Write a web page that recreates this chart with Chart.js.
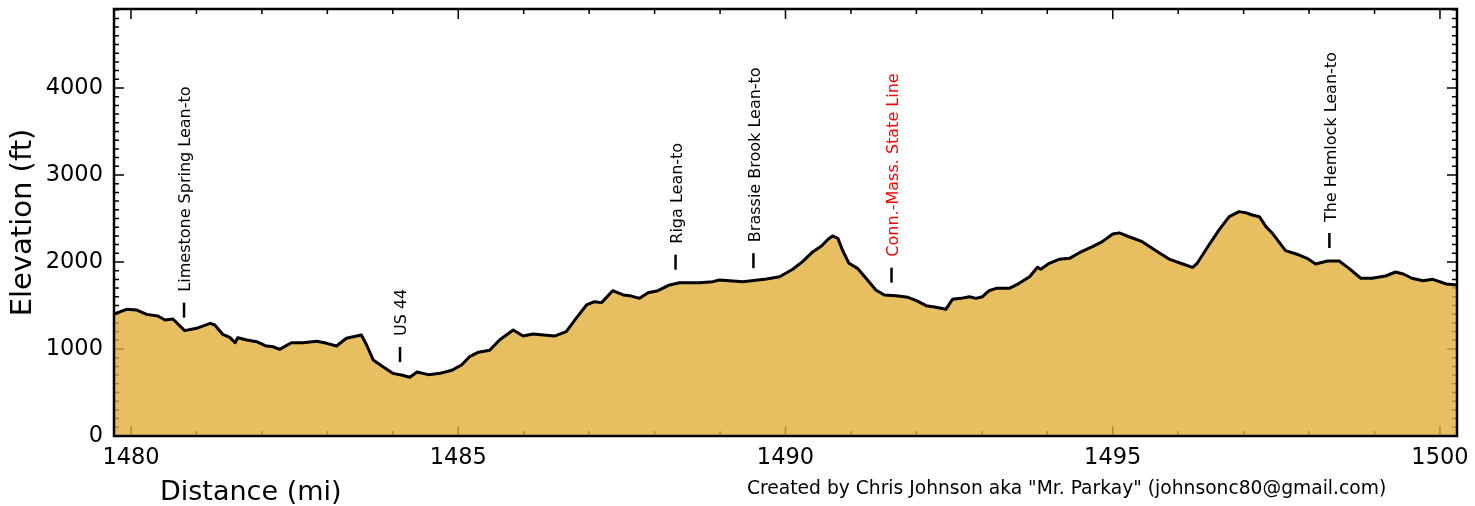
<!DOCTYPE html>
<html>
<head>
<meta charset="utf-8">
<script src="https://cdn.jsdelivr.net/npm/chart.js@4"></script>
<style>
  body { margin: 0; background: #fff; }
  #wrap { width: 1475px; height: 506px; }
</style>
</head>
<body>
<div id="wrap"><canvas id="profile" width="1475" height="506"></canvas></div>
<script>
// trail distance (mi) and elevation (ft)
const miles = [
  1479.74, 1479.93, 1480.09, 1480.24, 1480.41, 1480.52, 1480.64, 1480.82, 1481.00, 1481.21,
  1481.28, 1481.40, 1481.51, 1481.59, 1481.63, 1481.77, 1481.92, 1482.05, 1482.17, 1482.27,
  1482.45, 1482.63, 1482.84, 1482.99, 1483.14, 1483.29, 1483.52, 1483.60, 1483.70, 1483.85,
  1484.00, 1484.13, 1484.26, 1484.37, 1484.54, 1484.72, 1484.90, 1485.05, 1485.18, 1485.31,
  1485.48, 1485.63, 1485.84, 1485.99, 1486.14, 1486.47, 1486.65, 1486.80, 1486.96, 1487.08,
  1487.19, 1487.36, 1487.52, 1487.62, 1487.77, 1487.90, 1488.05, 1488.23, 1488.38, 1488.69,
  1488.89, 1488.99, 1489.35, 1489.71, 1489.91, 1490.11, 1490.26, 1490.42, 1490.55, 1490.65,
  1490.72, 1490.80, 1490.87, 1490.97, 1491.10, 1491.23, 1491.38, 1491.51, 1491.69, 1491.87,
  1492.00, 1492.15, 1492.30, 1492.45, 1492.55, 1492.68, 1492.81, 1492.91, 1493.01, 1493.11,
  1493.22, 1493.42, 1493.57, 1493.73, 1493.85, 1493.90, 1494.03, 1494.18, 1494.34, 1494.49,
  1494.69, 1494.84, 1495.00, 1495.10, 1495.25, 1495.45, 1495.66, 1495.86, 1496.07, 1496.22,
  1496.29, 1496.47, 1496.63, 1496.78, 1496.93, 1497.03, 1497.13, 1497.24, 1497.34, 1497.44,
  1497.64, 1497.85, 1497.97, 1498.10, 1498.28, 1498.46, 1498.61, 1498.79, 1498.96, 1499.17,
  1499.32, 1499.44, 1499.57, 1499.74, 1499.89, 1500.10, 1500.26
];
const elevation = [
  1400, 1456, 1448, 1398, 1379, 1333, 1345, 1211, 1238, 1295,
  1276, 1169, 1134, 1072, 1130, 1103, 1084, 1038, 1026, 996,
  1072, 1072, 1088, 1065, 1034, 1123, 1161, 1046, 874, 797,
  720, 701, 675, 735, 705, 720, 755, 816, 916, 963,
  985, 1103, 1218, 1149, 1172, 1149, 1199, 1352, 1506, 1544,
  1533, 1670, 1621, 1613, 1582, 1647, 1670, 1736, 1762, 1762,
  1774, 1793, 1774, 1805, 1831, 1916, 2004, 2119, 2184, 2261,
  2299, 2272, 2138, 1985, 1927, 1813, 1678, 1621, 1613, 1594,
  1556, 1498, 1479, 1456, 1571, 1582, 1601, 1582, 1601, 1670,
  1697, 1697, 1755, 1831, 1939, 1916, 1985, 2031, 2042, 2107,
  2176, 2234, 2322, 2335, 2290, 2234, 2130, 2034, 1977, 1939,
  1985, 2195, 2375, 2521, 2579, 2567, 2540, 2521, 2406, 2330,
  2130, 2080, 2042, 1977, 2011, 2011, 1927, 1813, 1813, 1839,
  1885, 1862, 1813, 1785, 1801, 1747, 1736
];

// landmarks along the trail
const landmarkNames = [
  'Limestone Spring Lean-to', 'US 44', 'Riga Lean-to',
  'Brassie Brook Lean-to', 'Conn.-Mass. State Line', 'The Hemlock Lean-to'
];
const landmarkMiles = [1480.81, 1484.11, 1488.32, 1489.51, 1491.62, 1498.31];
const landmarkElev = [1211, 701, 1762, 1780, 1613, 2011];

const xTicks = [1480, 1485, 1490, 1495, 1500];
const yTicks = [0, 1000, 2000, 3000, 4000];

// styling
const font = '"DejaVu Sans", sans-serif';
const fillColor = 'rgba(226, 175, 56, 0.8)';
const landmarkColor = { 'Conn.-Mass. State Line': '#ff0000' };

const decorations = {
  id: 'decorations',
  beforeDatasetsDraw(chart) {
    const { ctx, chartArea: a, scales: { x, y } } = chart;
    ctx.save();
    ctx.strokeStyle = '#000';
    ctx.lineWidth = 1.5;
    ctx.beginPath();
    for (let m = Math.ceil(x.min); m <= x.max; m++) {
      const px = x.getPixelForValue(m);
      const len = xTicks.includes(m) ? 10 : 5;
      ctx.moveTo(px, a.bottom); ctx.lineTo(px, a.bottom - len);
      ctx.moveTo(px, a.top); ctx.lineTo(px, a.top + len);
    }
    for (let e = 100; e <= y.max; e += 100) {
      const py = y.getPixelForValue(e);
      const len = yTicks.includes(e) ? 10 : 5;
      ctx.moveTo(a.left, py); ctx.lineTo(a.left + len, py);
      ctx.moveTo(a.right, py); ctx.lineTo(a.right - len, py);
    }
    ctx.stroke();
    ctx.restore();
  },
  afterDatasetsDraw(chart) {
    const { ctx, chartArea: a, scales: { x, y } } = chart;
    ctx.save();
    // box round the plot
    ctx.strokeStyle = '#000';
    ctx.lineWidth = 2.5;
    ctx.strokeRect(a.left, a.top, a.right - a.left, a.bottom - a.top);

    // landmark marks + names
    ctx.font = '16px ' + font;
    ctx.textAlign = 'left';
    ctx.textBaseline = 'middle';
    landmarkNames.forEach((name, i) => {
      const px = x.getPixelForValue(landmarkMiles[i]);
      const py = y.getPixelForValue(landmarkElev[i]);
      const bottom = py - 13, top = bottom - 15;
      ctx.strokeStyle = '#000';
      ctx.lineWidth = 2.5;
      ctx.beginPath();
      ctx.moveTo(px, bottom); ctx.lineTo(px, top);
      ctx.stroke();
      ctx.save();
      ctx.translate(px + 2, top - 11);
      ctx.rotate(-Math.PI / 2);
      ctx.fillStyle = landmarkColor[name] || '#000';
      ctx.fillText(name, 0, 0);
      ctx.restore();
    });

    // x label and credit line
    ctx.fillStyle = '#000';
    ctx.textBaseline = 'alphabetic';
    ctx.font = '27px ' + font;
    ctx.fillText('Distance (mi)', 160, 500);
    ctx.font = '18.7px ' + font;
    ctx.fillText('Created by Chris Johnson aka "Mr. Parkay" (johnsonc80@gmail.com)', 747, 494);
    ctx.restore();
  }
};

new Chart(document.getElementById('profile'), {
  type: 'line',
  data: {
    datasets: [{
      data: miles.map((m, i) => ({ x: m, y: elevation[i] })),
      borderColor: '#000',
      borderWidth: 3,
      backgroundColor: fillColor,
      fill: 'origin',
      pointRadius: 0,
      tension: 0,
      borderJoinStyle: 'round'
    }]
  },
  options: {
    responsive: false,
    animation: false,
    layout: { padding: { top: 9, right: 18, left: 0, bottom: 0 } },
    plugins: { legend: { display: false }, tooltip: { enabled: false } },
    scales: {
      x: {
        type: 'linear',
        min: 1479.74,
        max: 1500.26,
        afterFit: s => { s.height = 70; s.paddingLeft = 0; s.paddingRight = 0; },
        afterBuildTicks: s => { s.ticks = xTicks.map(v => ({ value: v })); },
        grid: { display: false, drawTicks: false },
        border: { display: false },
        ticks: {
          padding: 9,
          color: '#000',
          font: { family: font, size: 22.5 },
          maxRotation: 0,
          callback: v => String(v)
        }
      },
      y: {
        min: 0,
        max: 4908,
        afterFit: s => { s.width = 114; s.paddingTop = 0; s.paddingBottom = 0; },
        afterBuildTicks: s => { s.ticks = yTicks.map(v => ({ value: v })); },
        grid: { display: false, drawTicks: false },
        border: { display: false },
        title: {
          display: true,
          text: 'Elevation (ft)',
          color: '#000',
          font: { family: font, size: 29 },
          padding: { top: 6, bottom: 0 }
        },
        ticks: {
          padding: 11,
          color: '#000',
          font: { family: font, size: 22.5 },
          callback: v => String(v)
        }
      }
    }
  },
  plugins: [decorations]
});
</script>
</body>
</html>
